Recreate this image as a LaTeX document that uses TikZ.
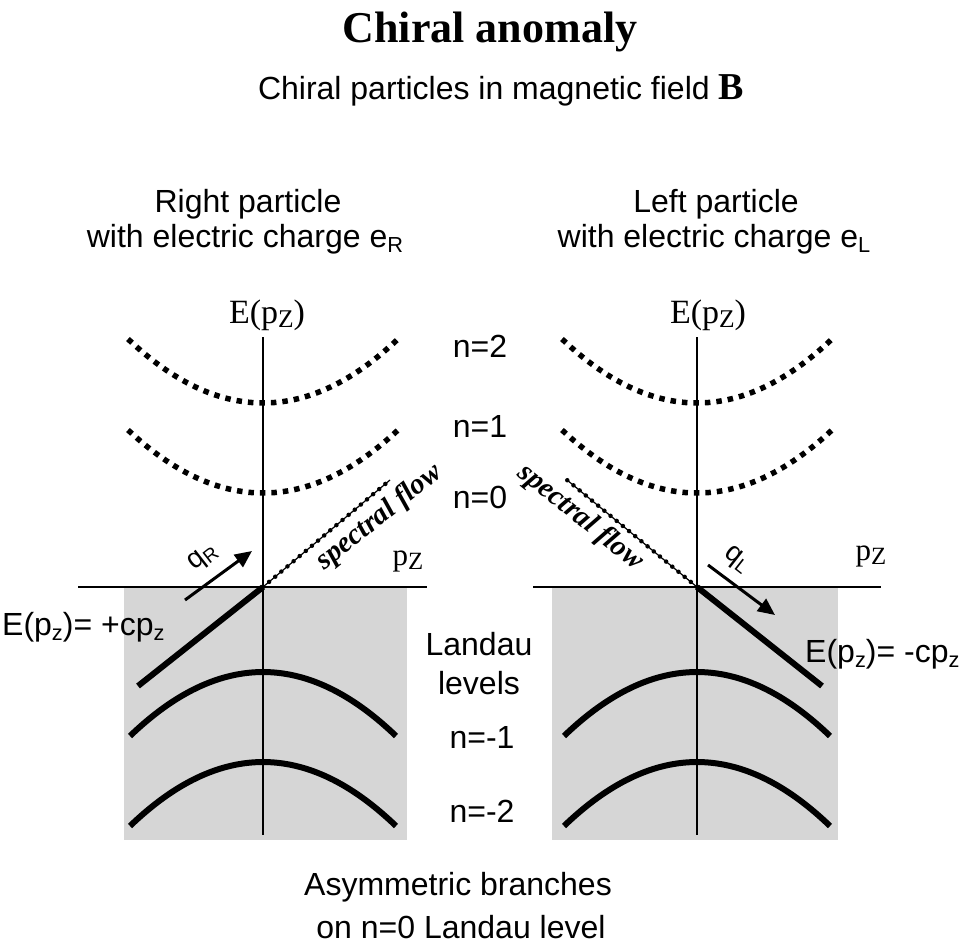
\documentclass[tikz,border=0pt]{standalone}
\usepackage{fontspec}
\setmainfont{Liberation Serif}
\setsansfont{Liberation Sans}
\usepackage{graphicx}
\usetikzlibrary{arrows.meta}
\newcommand{\lowsub}[2][0.68]{\raisebox{-0.3ex}{\scalebox{#1}{#2}}}
\tikzset{
 lab/.style={font=\sffamily\fontsize{32}{38}\selectfont, inner sep=0pt},
 serlab/.style={font=\rmfamily\fontsize{34}{40}\selectfont, inner sep=0pt},
 pzlab/.style={font=\rmfamily\fontsize{31}{36}\selectfont, inner sep=0pt},
 titlelab/.style={font=\rmfamily\bfseries\fontsize{44}{50}\selectfont, inner sep=0pt},
 flowlab/.style={font=\rmfamily\bfseries\itshape\fontsize{29}{32}\selectfont, inner sep=0pt},
 qlab/.style={font=\sffamily\fontsize{28}{32}\selectfont, inner sep=0pt},
 axisline/.style={line width=2pt},
 dotlevel/.style={line width=5.5pt, dash pattern=on 5.5pt off 6pt},
 solidlevel/.style={line width=6pt},
 branch/.style={line width=6pt},
 flowline/.style={line width=1.2pt},
 flowdots/.style={line width=4.5pt, line cap=round, dash pattern=on 0pt off 8pt},
 seashade/.style={fill=black!16},
 qarrow/.style={line width=3pt, -{Triangle[length=17pt,width=15pt]}},
}
\begin{document}
\begin{tikzpicture}[x=1pt,y=-1pt]
\useasboundingbox[fill=white] (0,0) rectangle (977,947);

% shaded Dirac seas
\fill[seashade] (124,587) rectangle (407,840);
\fill[seashade] (552,587) rectangle (838,840);

% axes
\coordinate (L0) at (263,587);
\coordinate (Ltop) at (263,337);
\coordinate (Lbot) at (263,835);
\coordinate (Lleft) at (78,587);
\coordinate (Lright) at (427,587);
\coordinate (R0) at (697,587);
\coordinate (Rtop) at (697,337);
\coordinate (Rbot) at (697,835);
\coordinate (Rleft) at (533,587);
\coordinate (Rright) at (881,587);
\draw[axisline] (Ltop) -- (Lbot);
\draw[axisline] (Lleft) -- (Lright);
\draw[axisline] (Rtop) -- (Rbot);
\draw[axisline] (Rleft) -- (Rright);

% upper Landau levels (dotted)
\draw[dotlevel] (128,339) .. controls (218,424.3) and (308,424.3) .. (398,339);
\draw[dotlevel] (128,430) .. controls (218,514) and (308,514) .. (398,430);
\draw[dotlevel] (562,339) .. controls (652,424.3) and (742,424.3) .. (832,339);
\draw[dotlevel] (562,430) .. controls (652,514) and (742,514) .. (832,430);

% lower Landau levels (solid)
\draw[solidlevel] (130,736) .. controls (218.7,650.7) and (307.3,650.7) .. (396,736);
\draw[solidlevel] (130,826) .. controls (218.7,740.7) and (307.3,740.7) .. (396,826);
\draw[solidlevel] (564,736) .. controls (652.7,650.7) and (741.3,650.7) .. (830,736);
\draw[solidlevel] (564,826) .. controls (652.7,740.7) and (741.3,740.7) .. (830,826);

% chiral branches
\coordinate (LB) at (138,686);
\coordinate (RB) at (822,686);
\draw[branch] (LB) -- (L0);
\draw[branch] (R0) -- (RB);

% spectral flow
\coordinate (LF) at (390,480);
\coordinate (RF) at (567,480);
\draw[flowline] (L0) -- (LF);
\draw[flowdots] (L0) -- (LF);
\draw[flowline] (R0) -- (RF);
\draw[flowdots] (R0) -- (RF);

% force arrows
\coordinate (qRs) at (185,600);
\coordinate (qRe) at (252,551);
\coordinate (qLs) at (708,565);
\coordinate (qLe) at (775,615);
\draw[qarrow] (qRs) -- (qRe);
\draw[qarrow] (qLs) -- (qLe);

% texts
\node[titlelab, anchor=base] (title) at (490,43) {Chiral anomaly};
\node[lab, anchor=base] (sub) at (501,100) {Chiral particles in magnetic field {\rmfamily\bfseries\fontsize{38}{40}\selectfont B}};
\node[lab, anchor=base] (rp1) at (248,212) {Right particle};
\node[lab, anchor=base] (rp2) at (245,247) {with electric charge e\lowsub{R}};
\node[lab, anchor=base] (lp1) at (716,212) {Left particle};
\node[lab, anchor=base] (lp2) at (714,247) {with electric charge e\lowsub{L}};

\node[serlab, anchor=base] (EL) at (267,323) {E(p\lowsub[0.75]{Z})};
\node[serlab, anchor=base] (ER) at (708,323) {E(p\lowsub[0.75]{Z})};
\node[pzlab, anchor=base] (pzL) at (408,565) {p\lowsub[0.8]{Z}};
\node[pzlab, anchor=base] (pzR) at (871,560) {p\lowsub[0.8]{Z}};

\node[lab, anchor=base] (n2) at (480,357) {n=2};
\node[lab, anchor=base] (n1) at (480,437) {n=1};
\node[lab, anchor=base] (n0) at (480,508) {n=0};
\node[lab, anchor=base] (ll1) at (479,655) {Landau};
\node[lab, anchor=base] (ll2) at (479,694) {levels};
\node[lab, anchor=base] (nm1) at (482,748) {n=-1};
\node[lab, anchor=base] (nm2) at (482,822) {n=-2};

\node[lab, anchor=base west] (eqR) at (2,635) {E(p\lowsub{z})= +cp\lowsub{z}};
\node[lab, anchor=base west] (eqL) at (805,662) {E(p\lowsub{z})= -cp\lowsub{z}};

\node[qlab, rotate=38] (qR) at (203,558) {q\lowsub{R}};
\node[qlab, rotate=-38] (qL) at (737,560) {q\lowsub{L}};

\node[flowlab, anchor=base, rotate=39] (sfR) at (384,523) {spectral flow};
\node[flowlab, anchor=base, rotate=-39] (sfL) at (576,523) {spectral flow};

\node[lab, anchor=base] (b1) at (458,895) {Asymmetric branches};
\node[lab, anchor=base] (b2) at (461,938) {on n=0 Landau level};
\end{tikzpicture}
\end{document}
